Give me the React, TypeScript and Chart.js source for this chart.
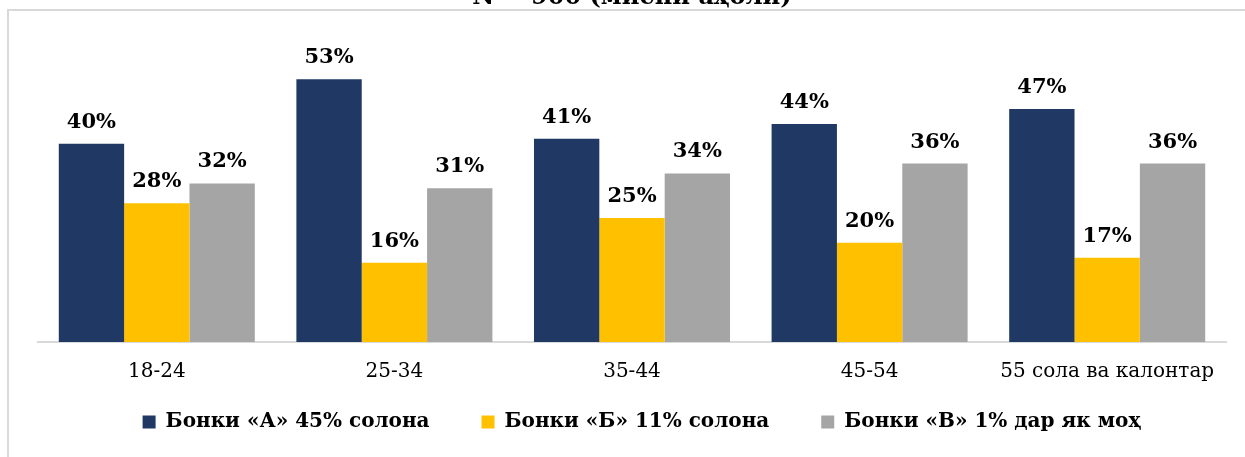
import React, { useEffect, useRef } from 'react';
import { Chart, registerables } from 'chart.js';

Chart.register(...registerables);

const titleText = 'N = 900 (миёни аҳолӣ)';
const categories = ['18-24', '25-34', '35-44', '45-54', '55 сола ва калонтар'];
const seriesNames = ['Бонки «А» 45% солона', 'Бонки «Б» 11% солона', 'Бонки «В» 1% дар як моҳ'];
const bankA = [40, 53, 41, 44, 47];
const bankB = [28, 16, 25, 20, 17];
const bankC = [32, 31, 34, 36, 36];
const seriesColors = ['#203864', '#FFC000', '#A5A5A5'];

const FONT = '"DejaVu Serif", serif';
const OFFSET_Y = 20; // canvas is shifted up so the title is cut at the top
const CANVAS_W = 1245;
const CANVAS_H = 504;

const valueLabels = {
  id: 'valueLabels',
  afterDatasetsDraw(chart: any) {
    const ctx = chart.ctx;
    ctx.save();
    ctx.font = `bold 21px ${FONT}`;
    ctx.fillStyle = '#000000';
    ctx.textAlign = 'center';
    ctx.textBaseline = 'alphabetic';
    chart.data.datasets.forEach((ds: any, i: number) => {
      const meta = chart.getDatasetMeta(i);
      meta.data.forEach((bar: any, j: number) => {
        ctx.fillText(`${ds.data[j]}%`, bar.x, bar.y - 16);
      });
    });
    ctx.restore();
  },
};

const legendPlacer = {
  id: 'legendPlacer',
  afterLayout(chart: any) {
    const lg = chart.legend;
    if (!lg) return;
    const shift = 642 - (lg.left + lg.right) / 2;
    lg.left += shift;
    lg.right += shift;
    const pad = lg.options.labels.padding;
    const newTop = 422 + OFFSET_Y - pad - 20 / 2;
    lg.bottom += newTop - lg.top;
    lg.top = newTop;
  },
};

function BarChart() {
  const ref = useRef<HTMLCanvasElement | null>(null);
  useEffect(() => {
    if (!ref.current) return;
    const chart = new Chart(ref.current, {
      type: 'bar',
      data: {
        labels: categories,
        datasets: [
          { label: seriesNames[0], data: bankA, backgroundColor: seriesColors[0], borderWidth: 0 },
          { label: seriesNames[1], data: bankB, backgroundColor: seriesColors[1], borderWidth: 0 },
          { label: seriesNames[2], data: bankC, backgroundColor: seriesColors[2], borderWidth: 0 },
        ],
      },
      options: {
        responsive: false,
        animation: false,
        events: [],
        datasets: { bar: { categoryPercentage: 0.825, barPercentage: 1 } },
        layout: { padding: { left: 38, right: 19, top: 0, bottom: 0 } },
        scales: {
          x: {
            grid: { display: false, drawTicks: false },
            border: { display: true, color: '#d9d9d9', width: 2 },
            ticks: {
              color: '#000000',
              font: { family: FONT, size: 20 },
              padding: 18,
              maxRotation: 0,
              autoSkip: false,
            },
          },
          y: { display: false, min: 0, max: 60 },
        },
        plugins: {
          title: {
            display: true,
            text: titleText,
            color: '#000000',
            font: { family: FONT, size: 24, weight: 'bold' },
            padding: { top: 3, bottom: 32.8 },
          },
          legend: {
            display: true,
            position: 'bottom',
            labels: {
              color: '#000000',
              font: { family: FONT, size: 20, weight: 'bold' },
              boxWidth: 13,
              boxHeight: 13,
              padding: 52,
            },
          },
          tooltip: { enabled: false },
        },
      },
      plugins: [valueLabels, legendPlacer],
    });
    return () => chart.destroy();
  }, []);

  return (
    <div style={{ position: 'absolute', left: 0, top: 0, width: CANVAS_W, height: 457, overflow: 'hidden', background: '#ffffff' }}>
      <div
        style={{
          position: 'absolute',
          left: 7,
          top: 9,
          width: 1300,
          height: 500,
          borderLeft: '2px solid #d9d9d9',
          borderTop: '2px solid #d9d9d9',
        }}
      />
      <canvas
        ref={ref}
        width={CANVAS_W}
        height={CANVAS_H}
        style={{ position: 'absolute', left: 0, top: -OFFSET_Y, width: CANVAS_W, height: CANVAS_H }}
      />
    </div>
  );
}

export default function App() {
  return <BarChart />;
}
